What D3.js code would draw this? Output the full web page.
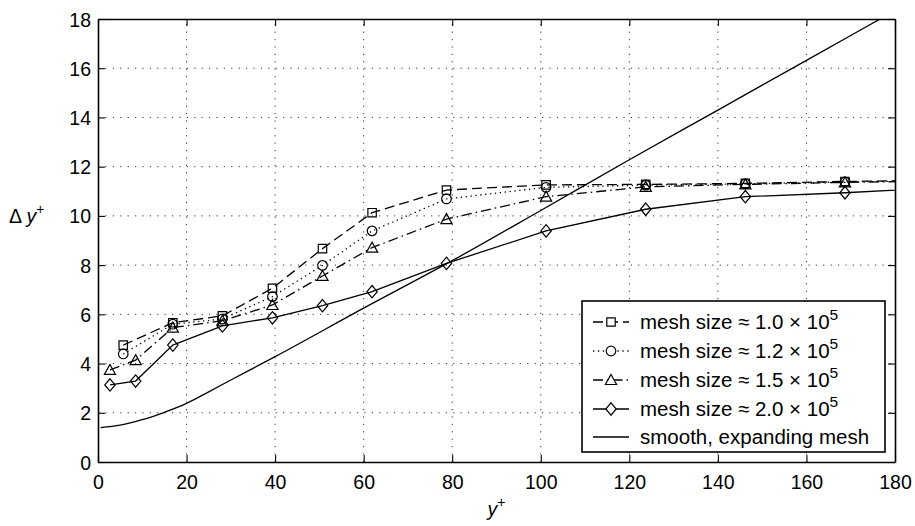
<!DOCTYPE html>
<html>
<head>
<meta charset="utf-8">
<script src="https://cdn.jsdelivr.net/npm/d3@7"></script>
<style>
  body { margin: 0; background: #fff; }
  svg { font-family: "Liberation Sans", Arial, Helvetica, sans-serif; }
</style>
</head>
<body>
<div id="chart-area"></div>
<script>
/*
*    mesh spacing chart
*/

// data (last point of each series lies past the axis, it gets clipped)
var squareX = [5.7, 16.9, 28.1, 39.4, 50.7, 61.9, 78.7, 101.2, 123.7, 146.2, 168.7, 191.2];
var squareY = [4.75, 5.66, 5.94, 7.06, 8.67, 10.13, 11.05, 11.26, 11.28, 11.32, 11.40, 11.45];

var circleX = [5.7, 16.9, 28.1, 39.4, 50.7, 61.9, 78.7, 101.2, 123.7, 146.2, 168.7, 191.2];
var circleY = [4.39, 5.60, 5.81, 6.72, 7.99, 9.39, 10.69, 11.16, 11.25, 11.30, 11.38, 11.43];

var triangleX = [2.7, 8.5, 16.9, 28.1, 39.4, 50.7, 61.9, 78.7, 101.2, 123.7, 146.2, 168.7, 191.2];
var triangleY = [3.74, 4.14, 5.46, 5.74, 6.38, 7.56, 8.71, 9.87, 10.78, 11.18, 11.28, 11.36, 11.42];

var diamondX = [2.7, 8.5, 16.9, 28.1, 39.4, 50.7, 61.9, 78.7, 101.2, 123.7, 146.2, 168.7, 191.2];
var diamondY = [3.13, 3.29, 4.75, 5.53, 5.86, 6.35, 6.92, 8.07, 9.39, 10.27, 10.78, 10.94, 11.15];

var smoothX = [0.6, 5, 10, 15, 20, 25, 30, 40, 60, 80, 100, 120, 140, 160, 180, 190];
var smoothY = [1.40, 1.50, 1.72, 2.02, 2.38, 2.85, 3.33, 4.28, 6.25, 8.18, 10.22, 12.28, 14.30, 16.32, 18.34, 19.35];

var xTicks = [0, 20, 40, 60, 80, 100, 120, 140, 160, 180];
var yTicks = [0, 2, 4, 6, 8, 10, 12, 14, 16, 18];

var legendLabels = ["1.0", "1.2", "1.5", "2.0"];

var width = 915;
var height = 526;
var mLeft = 98, mRight = 895, mTop = 19, mBottom = 462;

var x = d3.scaleLinear().domain([0, 180]).range([mLeft, mRight]);
var y = d3.scaleLinear().domain([0, 18]).range([mBottom, mTop]);

var svg = d3.select("#chart-area").append("svg")
    .attr("width", width)
    .attr("height", height);

svg.append("defs").append("clipPath")
    .attr("id", "plot-clip")
  .append("rect")
    .attr("x", mLeft)
    .attr("y", mTop)
    .attr("width", mRight - mLeft)
    .attr("height", mBottom - mTop);

//  dotted grid

var grid = svg.append("g").attr("stroke", "#333").attr("stroke-width", 1)
    .attr("stroke-dasharray", "1.2,6.2");

grid.selectAll(".gx")
    .data(xTicks.slice(1, -1))
    .enter().append("line")
    .attr("x1", (d) => x(d)).attr("x2", (d) => x(d))
    .attr("y1", mBottom).attr("y2", mTop);

grid.selectAll(".gy")
    .data(yTicks.slice(1, -1))
    .enter().append("line")
    .attr("y1", (d) => y(d)).attr("y2", (d) => y(d))
    .attr("x1", mLeft).attr("x2", mRight);

//  axes (ticks inward on all four sides)

var axisBottom = svg.append("g")
    .attr("transform", "translate(0," + mBottom + ")")
    .call(d3.axisBottom(x).tickValues(xTicks).tickSizeInner(-7).tickSizeOuter(0));

var axisTop = svg.append("g")
    .attr("transform", "translate(0," + mTop + ")")
    .call(d3.axisTop(x).tickValues(xTicks).tickSizeInner(-7).tickSizeOuter(0).tickFormat(""));

var axisLeft = svg.append("g")
    .attr("transform", "translate(" + mLeft + ",0)")
    .call(d3.axisLeft(y).tickValues(yTicks).tickSizeInner(-7).tickSizeOuter(0));

var axisRight = svg.append("g")
    .attr("transform", "translate(" + mRight + ",0)")
    .call(d3.axisRight(y).tickValues(yTicks).tickSizeInner(-7).tickSizeOuter(0).tickFormat(""));

[axisBottom, axisTop, axisLeft, axisRight].forEach((g) => {
    g.select(".domain").attr("stroke", "#000").attr("stroke-width", 1.6);
    g.selectAll(".tick line").attr("stroke", "#000").attr("stroke-width", 1.1);
    g.selectAll(".tick text").attr("fill", "#000").attr("font-size", 19.5)
        .attr("font-family", "'Liberation Sans', Arial, sans-serif");
});

axisBottom.selectAll(".tick text").attr("y", 12).attr("dy", 15);
axisLeft.selectAll(".tick text").attr("x", -7).attr("dy", "0.36em");

//  axis titles

var xTitle = svg.append("text")
    .attr("x", x(90))
    .attr("y", 516)
    .attr("text-anchor", "middle")
    .attr("font-size", 19.5);
xTitle.append("tspan").attr("font-style", "italic").text("y");
xTitle.append("tspan").attr("font-size", 14).attr("dy", -9).text("+");

var yTitle = svg.append("text")
    .attr("x", 9)
    .attr("y", 223)
    .attr("font-size", 19.5);
yTitle.append("tspan").text("\u0394 ");
yTitle.append("tspan").attr("font-style", "italic").text("y");
yTitle.append("tspan").attr("font-size", 14).attr("dy", -9).text("+");

//  marker shapes

function markerPath(shape, cx, cy) {
    if (shape === "square") {
        var s = 4.2;
        return "M" + (cx - s) + "," + (cy - s) + "h" + (2 * s) + "v" + (2 * s) + "h" + (-2 * s) + "Z";
    }
    if (shape === "circle") {
        var r = 4.8;
        return "M" + (cx - r) + "," + cy + "a" + r + "," + r + " 0 1,0 " + (2 * r) + ",0a" + r + "," + r + " 0 1,0 " + (-2 * r) + ",0Z";
    }
    if (shape === "triangle") {
        return "M" + cx + "," + (cy - 5.5) + "L" + (cx + 5.6) + "," + (cy + 4.5) + "L" + (cx - 5.6) + "," + (cy + 4.5) + "Z";
    }
    return "M" + cx + "," + (cy - 6.2) + "L" + (cx + 5.2) + "," + cy + "L" + cx + "," + (cy + 6.2) + "L" + (cx - 5.2) + "," + cy + "Z";
}

var series = [
    { xs: squareX, ys: squareY, shape: "square", dash: "10,5" },
    { xs: circleX, ys: circleY, shape: "circle", dash: "1.3,3.6" },
    { xs: triangleX, ys: triangleY, shape: "triangle", dash: "10,4,1.5,4" },
    { xs: diamondX, ys: diamondY, shape: "diamond", dash: null }
];

var line = d3.line()
    .x((d) => x(d[0]))
    .y((d) => y(d[1]));

var plot = svg.append("g").attr("clip-path", "url(#plot-clip)");

// smooth, expanding mesh
var smoothPts = smoothX.map((v, i) => [v, smoothY[i]]);
plot.append("path")
    .attr("d", d3.line().x((d) => x(d[0])).y((d) => y(d[1])).curve(d3.curveMonotoneX)(smoothPts))
    .attr("fill", "none")
    .attr("stroke", "#000")
    .attr("stroke-width", 1.3);

series.forEach((s) => {
    var pts = s.xs.map((v, i) => [v, s.ys[i]]);
    plot.append("path")
        .attr("d", line(pts))
        .attr("fill", "none")
        .attr("stroke", "#000")
        .attr("stroke-width", 1.3)
        .attr("stroke-dasharray", s.dash);

    plot.selectAll(null)
        .data(pts.filter((d) => d[0] <= 180))
        .enter().append("path")
        .attr("d", (d) => markerPath(s.shape, x(d[0]), y(d[1])))
        .attr("fill", "none")
        .attr("stroke", "#000")
        .attr("stroke-width", 1.2);
});

//  legend

var lg = svg.append("g");
lg.append("rect")
    .attr("x", 582).attr("y", 301)
    .attr("width", 303).attr("height", 151)
    .attr("fill", "#fff")
    .attr("stroke", "#000")
    .attr("stroke-width", 1.6);

var rowY = [322, 351, 380, 409, 437];

series.forEach((s, i) => {
    var ry = rowY[i];
    lg.append("line")
        .attr("x1", 593).attr("x2", 629)
        .attr("y1", ry).attr("y2", ry)
        .attr("stroke", "#000").attr("stroke-width", 1.3)
        .attr("stroke-dasharray", s.dash);
    lg.append("path")
        .attr("d", markerPath(s.shape, 611, ry))
        .attr("fill", "#fff")
        .attr("stroke", "#000")
        .attr("stroke-width", 1.2);
    var t = lg.append("text")
        .attr("x", 640).attr("y", ry + 7)
        .attr("font-size", 20.5);
    t.append("tspan").text("mesh size \u2248 " + legendLabels[i] + " \u00d7 10");
    t.append("tspan").attr("font-size", 15.5).attr("dy", -9).text("5");
});

lg.append("line")
    .attr("x1", 593).attr("x2", 629)
    .attr("y1", rowY[4]).attr("y2", rowY[4])
    .attr("stroke", "#000").attr("stroke-width", 1.3);
lg.append("text")
    .attr("x", 640).attr("y", rowY[4] + 7)
    .attr("font-size", 20.5)
    .text("smooth, expanding mesh");
</script>
</body>
</html>
